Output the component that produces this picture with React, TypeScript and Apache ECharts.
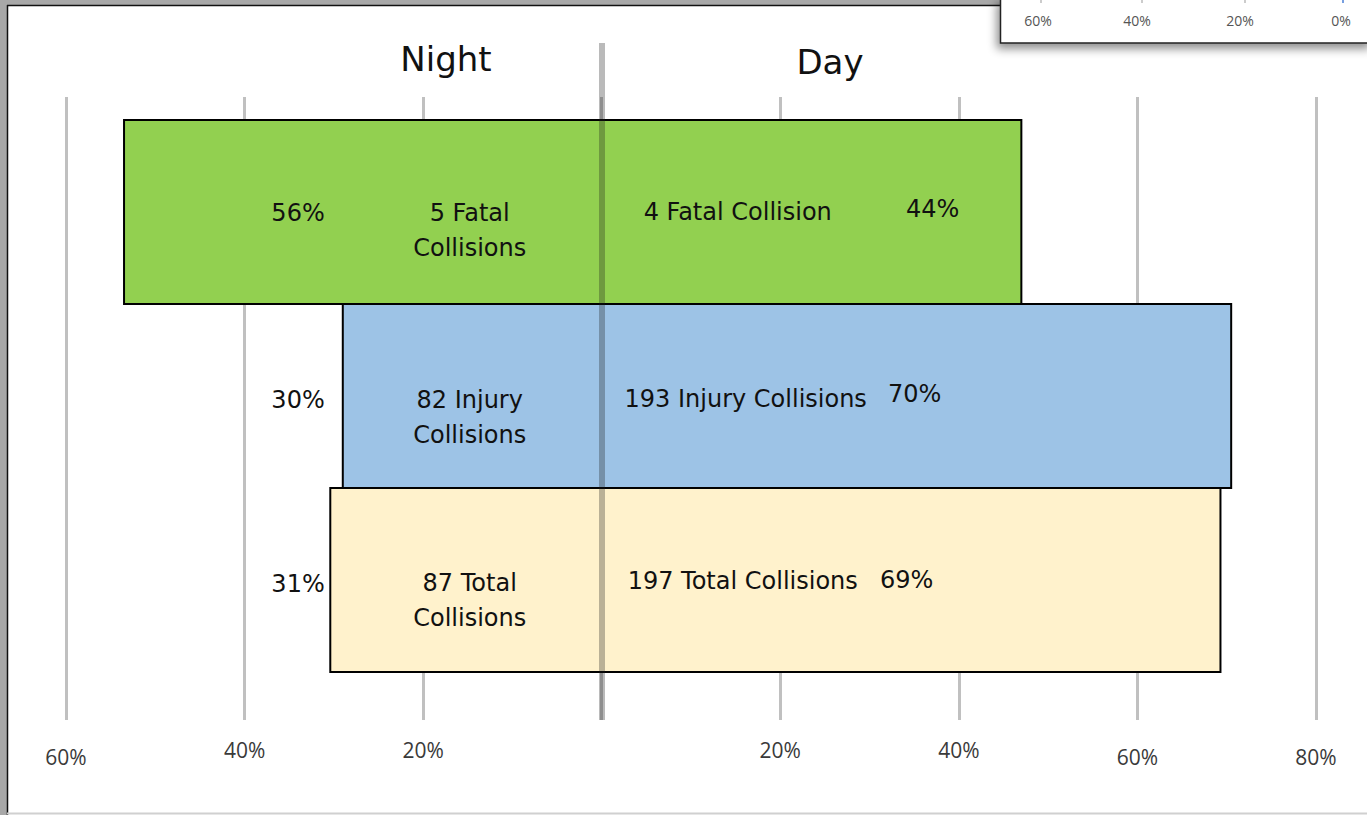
import React, { useEffect, useRef } from "react";
import * as echarts from "echarts";

const categories = ["Fatal", "Injury", "Total"];
// bar extents (percent of axis)
const nightExtent = [53.5, 29.0, 30.4];
const dayExtent = [47.0, 70.5, 69.3];
const nightPctLabels = ["56%", "30%", "31%"];
const dayPctLabels = ["44%", "70%", "69%"];
const nightCountLabels = ["5 Fatal\nCollisions", "82 Injury\nCollisions", "87 Total\nCollisions"];
const dayCountLabels = ["4 Fatal Collision", "193 Injury Collisions", "197 Total Collisions"];
const sideTitles = ["Night", "Day"];
const insetTickLabels = ["60%", "40%", "20%", "0%"];

const barColors = ["#92d050", "#9dc3e6", "#fff2cc"];
const FONT = "'Open Sans', Lato, sans-serif";
const TFONT = "'DejaVu Sans', 'Open Sans', sans-serif";

// pixel label offsets (layout only)
const nightPctDy = [1, 4, 4];
const nightCountDy = [18, 21, 20];
const dayCountDx = [136, 144, 141];
const dayCountDy = [0, 3, 1];
const dayPctDx = [331, 313, 305];
const dayPctDy = [-3, -2, 0];

export default function App() {
  const ref = useRef<HTMLDivElement>(null);
  useEffect(() => {
    if (!ref.current) return;
    const chart = echarts.init(ref.current, null, { renderer: "svg" });
    const G = { left: 66, right: 51 };
    const option: any = {
      animation: false,
      backgroundColor: "#ffffff",
      grid: [
        { ...G, top: 120, bottom: 143 },
        { ...G, top: 97, bottom: 95 },
        { ...G, top: 43, bottom: 95 },
      ],
      xAxis: [
        { gridIndex: 0, type: "value", min: -60, max: 80, interval: 20, show: false },
        {
          gridIndex: 1,
          type: "value",
          min: -60,
          max: 80,
          interval: 20,
          axisLine: { show: false },
          axisTick: { show: false },
          splitLine: { show: true, lineStyle: { color: "#c0c0c0", width: 3 } },
          axisLabel: {
            margin: 19,
            fontFamily: FONT,
            fontSize: 21,
            color: "#3a3a3a",
            formatter: (v: number) => {
              if (v === 0) return "";
              const t = Math.abs(v) + "%";
              return Math.abs(v) >= 60 ? "{lo|" + t + "}" : "{n|" + t + "}";
            },
            rich: {
              n: { fontFamily: FONT, fontSize: 21, color: "#3a3a3a" },
              lo: { fontFamily: FONT, fontSize: 21, color: "#3a3a3a", padding: [7, 0, 0, 0] },
            },
          },
        },
        { gridIndex: 2, type: "value", min: -60, max: 80, interval: 20, show: false },
      ],
      yAxis: [
        { gridIndex: 0, type: "category", data: categories, inverse: true, show: false },
        { gridIndex: 1, type: "value", min: 0, max: 1, show: false },
        { gridIndex: 2, type: "value", min: 0, max: 1, show: false },
      ],
      series: [
        {
          type: "custom",
          xAxisIndex: 0,
          yAxisIndex: 0,
          encode: { x: [1, 2], y: 0 },
          data: categories.map((_, i) => [i, -nightExtent[i], dayExtent[i]]),
          renderItem: (params: any, api: any) => {
            const i = api.value(0);
            const l = api.coord([api.value(1), i]);
            const r = api.coord([api.value(2), i]);
            const c = api.coord([0, i]);
            const h = api.size([0, 1])[1];
            const txt = (x: number, y: number, text: string, align: string) => ({
              type: "text",
              x,
              y,
              style: {
                text,
                fill: "#111",
                font: "24px " + TFONT,
                align,
                verticalAlign: "middle",
                lineHeight: 35,
              },
            });
            return {
              type: "group",
              children: [
                {
                  type: "rect",
                  shape: { x: l[0], y: l[1] - h / 2, width: r[0] - l[0], height: h },
                  style: { fill: barColors[i], stroke: "#000", lineWidth: 2 },
                },
                txt(c[0] - 277, c[1] + nightPctDy[i], nightPctLabels[i], "right"),
                txt(c[0] - 132, c[1] + nightCountDy[i], nightCountLabels[i], "center"),
                txt(c[0] + dayCountDx[i], c[1] + dayCountDy[i], dayCountLabels[i], "center"),
                txt(c[0] + dayPctDx[i], c[1] + dayPctDy[i], dayPctLabels[i], "center"),
              ],
            };
          },
        },
        {
          type: "scatter",
          xAxisIndex: 2,
          yAxisIndex: 2,
          symbolSize: 0,
          data: [[0, 0]],
          z: 10,
          markLine: {
            silent: true,
            symbol: "none",
            label: { show: false },
            lineStyle: { color: "rgba(28,28,28,0.3)", width: 6, type: "solid" },
            data: [{ xAxis: 0 }],
          },
        },
      ],
      graphic: [
        // page frame
        { type: "rect", shape: { x: 0, y: 0, width: 1367, height: 5 }, style: { fill: "#a8a8a8" }, z: 20 },
        { type: "rect", shape: { x: 0, y: 0, width: 7, height: 815 }, style: { fill: "#a8a8a8" }, z: 20 },
        { type: "line", shape: { x1: 7, y1: 5.5, x2: 1367, y2: 5.5 }, style: { stroke: "#111", lineWidth: 1.5 }, z: 21 },
        { type: "line", shape: { x1: 7.5, y1: 5, x2: 7.5, y2: 815 }, style: { stroke: "#111", lineWidth: 1.5 }, z: 21 },
        { type: "line", shape: { x1: 7, y1: 813.5, x2: 1367, y2: 813.5 }, style: { stroke: "#d0d0d0", lineWidth: 2 }, z: 21 },
        // inset fragment
        {
          type: "rect",
          shape: { x: 1000.5, y: -2, width: 372, height: 45 },
          style: {
            fill: "#fff",
            stroke: "#222",
            lineWidth: 1.5,
            shadowBlur: 10,
            shadowColor: "rgba(0,0,0,0.45)",
            shadowOffsetX: -3,
            shadowOffsetY: 5,
          },
          z: 30,
        },
        ...insetTickLabels.map((t, k) => ({
          type: "text",
          x: [1038, 1137, 1240, 1341][k],
          y: 20,
          style: { text: t, fill: "#555", font: "14px " + FONT, align: "center", verticalAlign: "middle" },
          z: 31,
        })),
        ...[1041, 1142, 1245, 1343].map((x, k) => ({
          type: "line",
          shape: { x1: x, y1: 0, x2: x, y2: 3 },
          style: { stroke: k === 3 ? "#4a7fd6" : "#bbb", lineWidth: 1.5 },
          z: 31,
        })),
        // side titles
        {
          type: "text",
          x: 446,
          y: 59,
          style: { text: sideTitles[0], fill: "#111", font: "34px " + TFONT, align: "center", verticalAlign: "middle" },
          z: 25,
        },
        {
          type: "text",
          x: 830,
          y: 62,
          style: { text: sideTitles[1], fill: "#111", font: "34px " + TFONT, align: "center", verticalAlign: "middle" },
          z: 25,
        },
      ],
    };
    chart.setOption(option);
    return () => chart.dispose();
  }, []);
  return (
    <div
      ref={ref}
      style={{ position: "fixed", left: 0, top: 0, width: 1367, height: 815, background: "#fff" }}
    />
  );
}
